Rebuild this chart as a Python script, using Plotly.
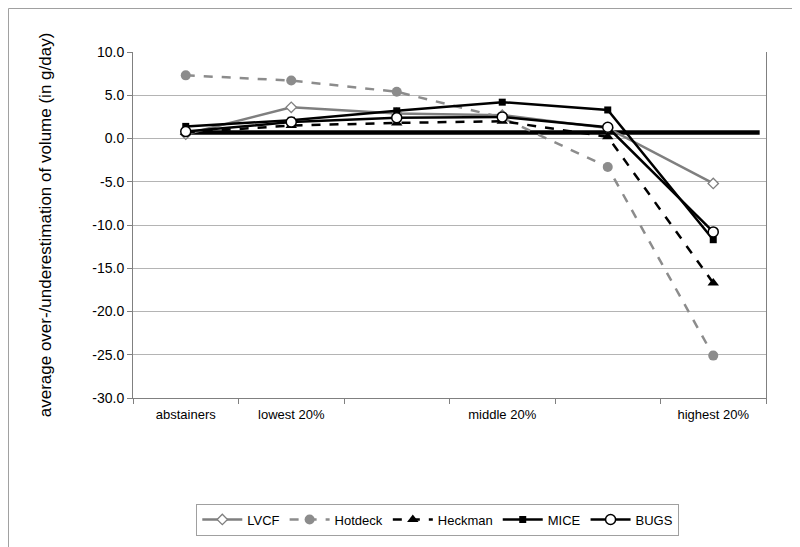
import plotly.graph_objects as go

categories = ["abstainers", "lowest 20%", " ", "middle 20%", "  ", "highest 20%"]

lvcf = [0.5, 3.6, 2.9, 2.7, 1.2, -5.2]
hotdeck = [7.3, 6.7, 5.4, 2.4, -3.3, -25.1]
heckman = [0.7, 1.5, 1.8, 2.0, 0.2, -16.7]
mice = [1.4, 2.1, 3.2, 4.2, 3.3, -11.7]
bugs = [0.8, 1.9, 2.4, 2.5, 1.3, -10.8]

reference_value = 0.7
reference_extent = [0, 5.44]

y_tick_values = [10, 5, 0, -5, -10, -15, -20, -25, -30]
y_tick_labels = ["10.0", "5.0", "0.0", "-5.0", "-10.0", "-15.0", "-20.0", "-25.0", "-30.0"]
grid_values = [5, 0, -5, -10, -15, -20, -25]

FONT = "Liberation Sans, Arial, sans-serif"

fig = go.Figure()

fig.add_trace(go.Scatter(
    x=categories, y=lvcf, name="LVCF", mode="lines+markers",
    line=dict(color="#7f7f7f", width=2.5),
    marker=dict(symbol="diamond", size=8, color="white", line=dict(color="#7f7f7f", width=1.3)),
))
fig.add_trace(go.Scatter(
    x=categories, y=hotdeck, name="Hotdeck", mode="lines+markers",
    line=dict(color="#8c8c8c", width=2.5, dash="dash"),
    marker=dict(symbol="circle", size=10, color="#8c8c8c"),
))
fig.add_trace(go.Scatter(
    x=categories, y=heckman, name="Heckman", mode="lines+markers",
    line=dict(color="black", width=2.5, dash="dash"),
    marker=dict(symbol="triangle-up", size=10, color="black"),
))
fig.add_trace(go.Scatter(
    x=categories, y=mice, name="MICE", mode="lines+markers",
    line=dict(color="black", width=2.5),
    marker=dict(symbol="square", size=7, color="black"),
))
fig.add_trace(go.Scatter(
    x=categories, y=bugs, name="BUGS", mode="lines+markers",
    line=dict(color="black", width=2.5),
    marker=dict(symbol="circle", size=10, color="white", line=dict(color="black", width=1.5)),
))

fig.add_shape(type="line", xref="x", yref="y",
              x0=reference_extent[0], x1=reference_extent[1],
              y0=reference_value, y1=reference_value,
              line=dict(color="black", width=4.5), layer="between")

# outer chart border
fig.add_shape(type="rect", xref="paper", yref="paper",
              x0=-0.1967, x1=1.0648, y0=-0.4509, y1=1.1257,
              line=dict(color="#a0a0a0", width=1), layer="below")

fig.update_layout(
    width=800, height=547,
    margin=dict(l=125, r=42, t=44, b=157),
    paper_bgcolor="white", plot_bgcolor="white",
    font=dict(family=FONT, size=13, color="black"),
    showlegend=True,
    legend=dict(
        orientation="h", x=0.1, y=-0.305, xanchor="left", yanchor="top",
        bordercolor="#a0a0a0", borderwidth=1, font=dict(size=13),
        itemwidth=40,
    ),
    xaxis=dict(
        type="category", range=[-0.5, 5.5], tickson="boundaries",
        ticks="outside", ticklen=5, tickcolor="#808080",
        showline=True, linecolor="#808080", linewidth=1,
        showgrid=False, tickfont=dict(size=13), fixedrange=True,
        ticklabelstandoff=4,
    ),
    yaxis=dict(
        range=[-30, 10], tickvals=y_tick_values, ticktext=y_tick_labels,
        ticks="outside", ticklen=5, tickcolor="#808080",
        showline=True, linecolor="#808080", linewidth=1, mirror=True,
        showgrid=False, zeroline=False, tickfont=dict(size=14),
        minor=dict(tickvals=grid_values, showgrid=True, gridcolor="#b4b4b4", gridwidth=1, ticks=""),
        title=dict(text="average over-/underestimation of volume (in g/day)",
                   font=dict(size=17), standoff=36),
    ),
)

fig.write_html("out.html")
